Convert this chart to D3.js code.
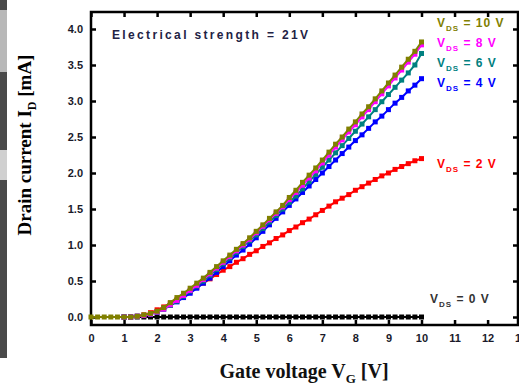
<!DOCTYPE html>
<html>
<head>
<meta charset="utf-8">
<script src="https://cdn.jsdelivr.net/npm/d3@7"></script>
<style>
  body { margin: 0; background: #fff; }
  svg { display: block; }
  .tick text { font-family: "Liberation Sans", Arial, sans-serif; font-weight: bold; font-size: 11px; fill: #1a1a2a; }
</style>
</head>
<body>
<script>
// gate voltage grid [V]
var vg = [0,0.2,0.4,0.6,0.8,1,1.2,1.4,1.6,1.8,2,2.2,2.4,2.6,2.8,3,3.2,3.4,3.6,3.8,4,4.2,4.4,4.6,4.8,5,5.2,5.4,5.6,5.8,6,6.2,6.4,6.6,6.8,7,7.2,7.4,7.6,7.8,8,8.2,8.4,8.6,8.8,9,9.2,9.4,9.6,9.8,10];

// drain current [mA] for each V_DS (null = not measured)
var id10 = [0,0,0,0,0,0,0,0.01,0.03,0.05,0.08,0.13,0.20,0.27,0.33,0.40,0.47,0.54,0.62,0.70,0.78,0.86,0.94,1.02,1.10,1.19,1.28,1.37,1.46,1.55,1.66,1.76,1.87,1.97,2.07,2.18,2.29,2.40,2.50,2.61,2.71,2.82,2.92,3.03,3.14,3.25,3.36,3.47,3.58,3.69,3.82];
var id8 = [null,null,null,null,null,0,0,0.01,0.02,0.04,0.07,0.11,0.17,0.23,0.30,0.37,0.44,0.52,0.60,0.68,0.76,0.84,0.92,1.00,1.08,1.17,1.26,1.35,1.44,1.53,1.63,1.73,1.83,1.93,2.03,2.14,2.25,2.36,2.46,2.57,2.67,2.78,2.88,2.99,3.10,3.21,3.32,3.43,3.54,3.65,3.78];
var id6 = [null,null,null,null,null,0,0,0.01,0.02,0.04,0.07,0.11,0.16,0.22,0.29,0.36,0.43,0.50,0.58,0.66,0.74,0.82,0.90,0.98,1.06,1.14,1.23,1.32,1.41,1.50,1.59,1.68,1.78,1.88,1.98,2.08,2.18,2.28,2.38,2.48,2.58,2.68,2.78,2.88,2.99,3.09,3.19,3.29,3.39,3.50,3.66];
var id4 = [null,null,null,null,null,0,0,0.01,0.02,0.04,0.07,0.11,0.16,0.21,0.27,0.33,0.40,0.47,0.54,0.62,0.70,0.78,0.86,0.93,1.01,1.10,1.19,1.28,1.37,1.46,1.55,1.64,1.73,1.82,1.91,2.00,2.09,2.18,2.27,2.36,2.45,2.53,2.62,2.71,2.79,2.88,2.97,3.05,3.14,3.22,3.31];
var id2 = [null,null,null,null,null,null,0,0.01,0.03,0.06,0.10,0.14,0.19,0.24,0.29,0.35,0.41,0.47,0.53,0.59,0.65,0.70,0.76,0.81,0.87,0.92,0.98,1.03,1.09,1.14,1.20,1.25,1.31,1.36,1.42,1.48,1.54,1.60,1.65,1.70,1.76,1.81,1.86,1.91,1.96,2.00,2.05,2.09,2.13,2.17,2.20];
var id0 = [null,null,null,null,null,0,0,0,0,0,0,0,0,0,0,0,0,0,0,0,0,0,0,0,0,0,0,0,0,0,0,0,0,0,0,0,0,0,0,0,0,0,0,0,0,0,0,0,0,0,0];

var seriesNames = ["V_DS = 0 V", "V_DS = 2 V", "V_DS = 4 V", "V_DS = 6 V", "V_DS = 8 V", "V_DS = 10 V"];
var vdsLabels = ["0 V", "2 V", "4 V", "6 V", "8 V", "10 V"];
var seriesColors = ["#000000", "#ff0000", "#0000ff", "#008080", "#ff00ff", "#808000"];
var seriesValues = [id0, id2, id4, id6, id8, id10];

var xTicks = [0,1,2,3,4,5,6,7,8,9,10,11,12,13];
var yTicks = [0,0.5,1,1.5,2,2.5,3,3.5,4];

var width = 519, height = 387;
var mLeft = 91, mRight = 518, mTop = 12, mBottom = 325;

var svg = d3.select("body").append("svg").attr("width", width).attr("height", height);

// gray strip of the neighbouring figure on the left
svg.append("rect").attr("x", 0).attr("y", 0).attr("width", 7).attr("height", 358).attr("fill", "#4a4a4a");
svg.append("rect").attr("x", 0).attr("y", 10).attr("width", 7).attr("height", 62).attr("fill", "#b8b8b8");
svg.append("rect").attr("x", 0).attr("y", 150).attr("width", 7).attr("height", 30).attr("fill", "#d0d0d0");

// scales
var x = d3.scaleLinear().domain([0, 12.92]).range([mLeft, mRight]);
var y = d3.scaleLinear().domain([-0.111, 4.236]).range([mBottom, mTop]);

// axes (ticks pointing inward)
svg.append("g").attr("transform", "translate(0," + mBottom + ")")
  .call(d3.axisBottom(x).tickValues(xTicks).tickSizeInner(-5).tickSizeOuter(0).tickPadding(9).tickFormat(d3.format("d")));
svg.append("g").attr("transform", "translate(0," + mTop + ")")
  .call(d3.axisTop(x).tickValues(xTicks.slice(0, 13)).tickSizeInner(-5).tickSizeOuter(0).tickFormat(""));
svg.append("g").attr("transform", "translate(" + mLeft + ",0)")
  .call(d3.axisLeft(y).tickValues(yTicks).tickSizeInner(-5).tickSizeOuter(0).tickPadding(8).tickFormat(d3.format(".1f")));
svg.append("g").attr("transform", "translate(" + mRight + ",0)")
  .call(d3.axisRight(y).tickValues(yTicks).tickSizeInner(-5).tickSizeOuter(0).tickFormat(""));

svg.selectAll(".domain").remove();
svg.selectAll(".tick line").attr("stroke", "#000").attr("stroke-width", 2.5);

// frame
svg.append("rect").attr("x", mLeft).attr("y", mTop).attr("width", mRight - mLeft).attr("height", mBottom - mTop)
  .attr("fill", "none").attr("stroke", "#000").attr("stroke-width", 2.5);

// curves
var line = d3.line()
  .defined(function(d) { return d[1] != null; })
  .x(function(d) { return x(d[0]); })
  .y(function(d) { return y(d[1]); });

seriesValues.forEach(function(vals, i) {
  var pts = vg.map(function(v, k) { return [v, vals[k]]; });
  var g = svg.append("g");
  g.append("path").datum(pts).attr("d", line).attr("fill", "none")
    .attr("stroke", seriesColors[i]).attr("stroke-width", 2);
  g.selectAll("rect").data(pts.filter(function(d) { return d[1] != null; }))
    .enter().append("rect")
    .attr("x", function(d) { return x(d[0]) - 2.5; })
    .attr("y", function(d) { return y(d[1]) - 2.5; })
    .attr("width", 5).attr("height", 5)
    .attr("fill", seriesColors[i]);
});

// legend labels next to curves
var labelPos = [[430, 300], [437, 165], [437, 84], [437, 64], [437, 44], [437, 24]];
seriesNames.forEach(function(name, i) {
  var t = svg.append("text")
    .attr("x", labelPos[i][0]).attr("y", labelPos[i][1])
    .attr("fill", seriesColors[i] === "#000000" ? "#333" : seriesColors[i])
    .attr("font-family", "Liberation Sans, Arial, sans-serif")
    .attr("font-weight", "bold").attr("font-size", 12)
    .attr("dominant-baseline", "middle")
    .attr("letter-spacing", 1);
  t.append("tspan").text("V");
  t.append("tspan").attr("font-size", 8).attr("dy", 5).text("DS");
  t.append("tspan").attr("dy", -5).text(" = " + vdsLabels[i]);
});

// annotation
svg.append("text").attr("x", 112).attr("y", 36)
  .attr("font-family", "Liberation Sans, Arial, sans-serif").attr("font-weight", "bold")
  .attr("font-size", 12).attr("fill", "#222244")
  .attr("dominant-baseline", "middle")
  .attr("textLength", 196).attr("lengthAdjust", "spacing")
  .text("Electrical strength = 21V");

// axis titles
var yt = svg.append("text")
  .attr("transform", "translate(31,145) rotate(-90)")
  .attr("text-anchor", "middle")
  .attr("font-family", "Liberation Serif, Times New Roman, serif")
  .attr("font-weight", "bold").attr("font-size", 19).attr("fill", "#000");
yt.append("tspan").text("Drain current I");
yt.append("tspan").attr("font-size", 12).attr("dy", 5).text("D");
yt.append("tspan").attr("dy", -5).text(" [mA]");

var xt = svg.append("text")
  .attr("x", 304).attr("y", 378)
  .attr("text-anchor", "middle")
  .attr("font-family", "Liberation Serif, Times New Roman, serif")
  .attr("font-weight", "bold").attr("font-size", 20).attr("fill", "#111");
xt.append("tspan").text("Gate voltage V");
xt.append("tspan").attr("font-size", 13).attr("dy", 5).text("G");
xt.append("tspan").attr("dy", -5).text(" [V]");
</script>
</body>
</html>
